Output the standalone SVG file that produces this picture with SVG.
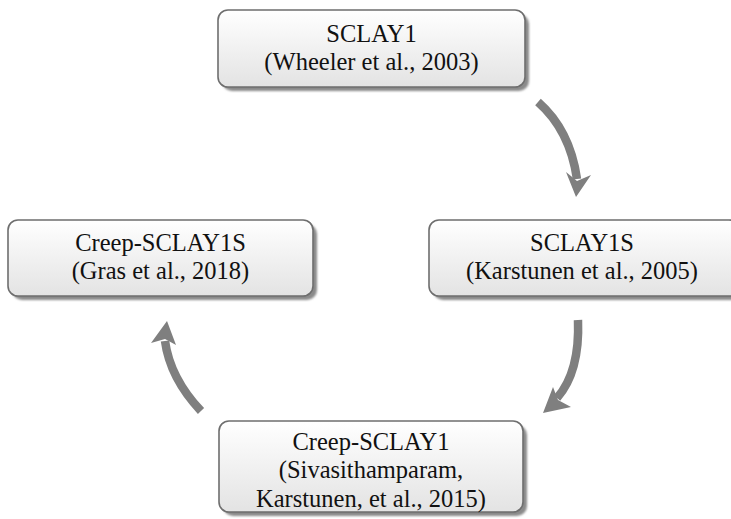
<svg xmlns="http://www.w3.org/2000/svg" width="731" height="519" viewBox="0 0 731 519">
<defs>
<linearGradient id="fill" x1="0" y1="0" x2="0" y2="1">
<stop offset="0" stop-color="#ffffff"/>
<stop offset="1" stop-color="#e3e3e3"/>
</linearGradient>
<filter id="sh" x="-10%" y="-20%" width="120%" height="140%">
<feGaussianBlur stdDeviation="1.2"/>
</filter>
</defs>
<style>
.shadow{fill:#8a8a8a;filter:url(#sh)}
.box{fill:url(#fill);stroke:#6e6e6e;stroke-width:1.6}
text{font-family:"Liberation Serif",Tinos,"Times New Roman",Times,"Nimbus Roman","Nimbus Roman No9 L","DejaVu Serif","Noto Serif",FreeSerif,Georgia,serif;font-size:24.5px;fill:#111;text-anchor:middle}
.shaft{fill:none;stroke:#7f7f7f;stroke-width:8.5}
.head{fill:#7f7f7f}
</style>
<rect width="731" height="519" fill="#ffffff"/>
<g id="node-sclay1">
<rect class="shadow" x="222" y="14" width="307" height="77" rx="10"/>
<rect class="box" x="218" y="10" width="307" height="77" rx="10"/>
<text x="371.5" y="42">SCLAY1</text>
<text x="371.5" y="70">(Wheeler et al., 2003)</text>
</g>
<g id="node-sclay1s">
<rect class="shadow" x="433" y="224" width="310" height="76" rx="10"/>
<rect class="box" x="429" y="220" width="310" height="76" rx="10"/>
<text x="582" y="251">SCLAY1S</text>
<text x="582" y="279">(Karstunen et al., 2005)</text>
</g>
<g id="node-creep-sclay1s">
<rect class="shadow" x="12" y="224" width="305" height="76" rx="10"/>
<rect class="box" x="8" y="220" width="305" height="76" rx="10"/>
<text x="160.5" y="251">Creep-SCLAY1S</text>
<text x="160.5" y="279">(Gras et al., 2018)</text>
</g>
<g id="node-creep-sclay1">
<rect class="shadow" x="223" y="425" width="304" height="91" rx="10"/>
<rect class="box" x="219" y="421" width="304" height="91" rx="10"/>
<text x="371" y="450">Creep-SCLAY1</text>
<text x="371" y="478">(Sivasithamparam,</text>
<text x="371" y="507">Karstunen, et al., 2015)</text>
</g>
<g id="connectors">
<path class="shaft" d="M538,102 Q570,130 577,179"/>
<polygon class="head" points="576,197 566,172 577,181 591,175"/>
<path class="shaft" d="M578,320 Q580,372 557,398"/>
<polygon class="head" points="543,413 553,387 558,400 571,407"/>
<path class="shaft" d="M201,411 Q170,378 165,341"/>
<polygon class="head" points="167,321 151,343 165,339 176,345"/>
</g>
</svg>
